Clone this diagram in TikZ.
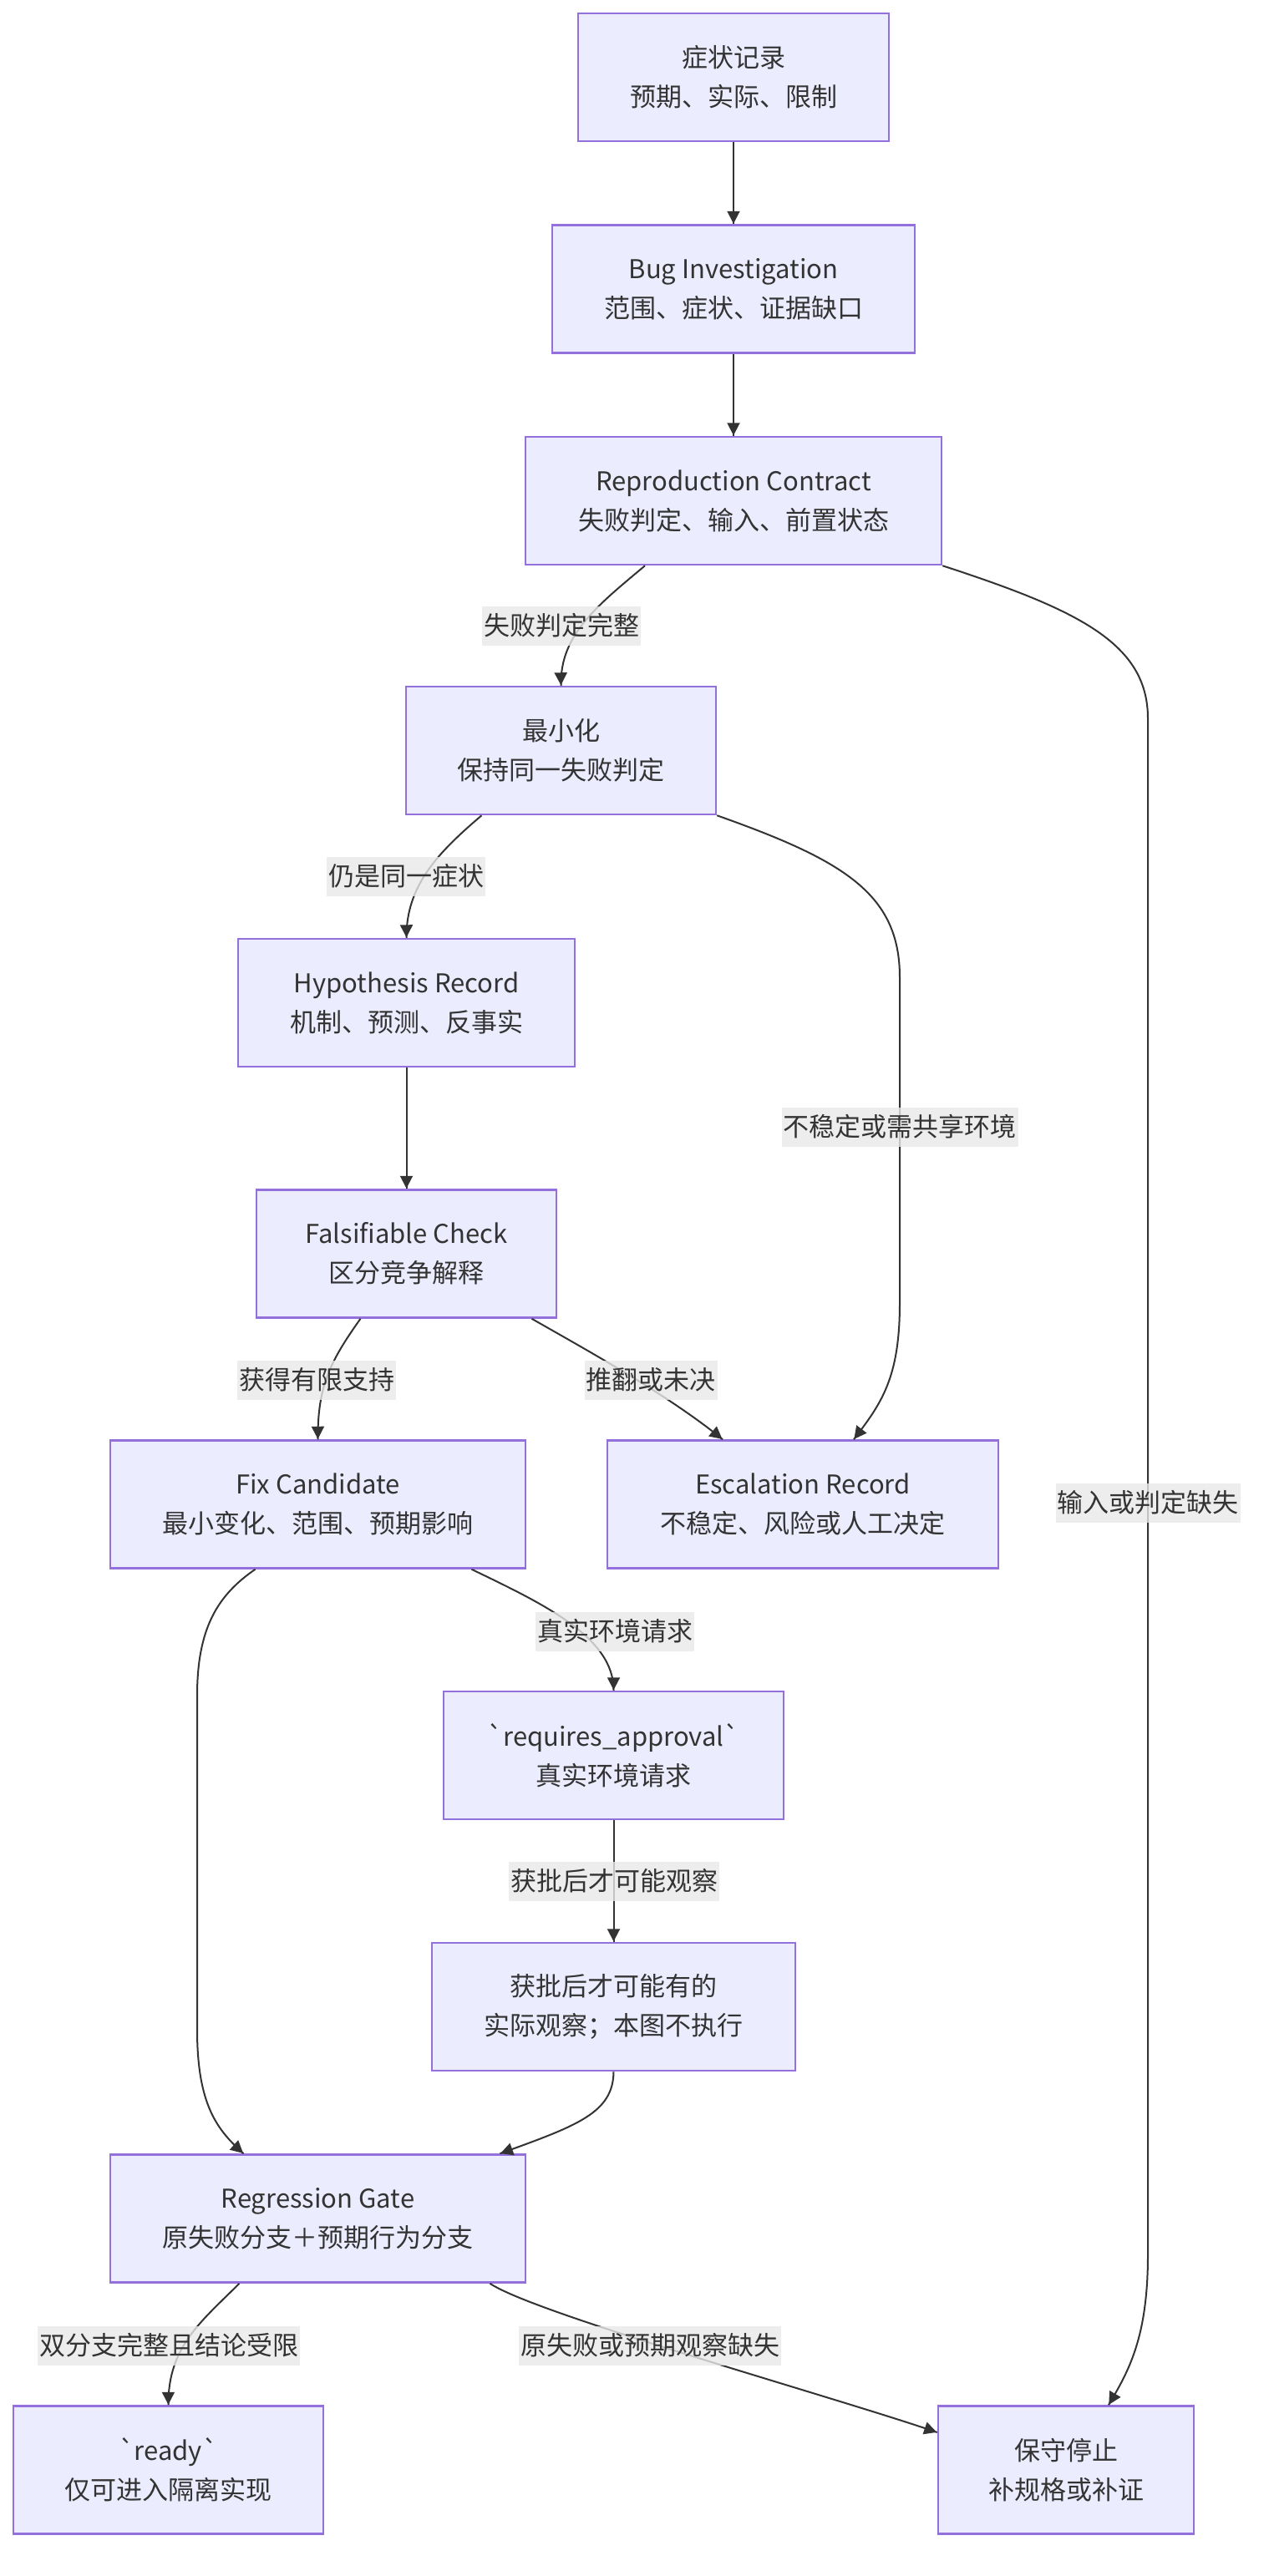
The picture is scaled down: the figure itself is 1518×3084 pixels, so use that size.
\documentclass[tikz,border=0pt]{standalone}
\usepackage{fontspec}
\usepackage[]{xcolor}
\setmainfont{Noto Sans CJK SC}
\usetikzlibrary{arrows.meta}
\usetikzlibrary{decorations.markings}
\definecolor{nodefill}{HTML}{ECECFF}
\definecolor{nodeline}{HTML}{9370DB}
\definecolor{ink}{HTML}{333333}
\definecolor{lblfill}{HTML}{E8E8E8}
\tikzset{->/.style = {decoration={markings,mark=at position -0.5pt with {\arrow{Triangle[length=15pt,width=15pt]}}},postaction={decorate}}}
\tikzset{stepbox/.style = {draw=nodeline, fill=nodefill, line width=2.5pt, text=ink, align=center, minimum height=153pt, inner sep=0pt, font=\fontsize{31}{47}\selectfont}}
\tikzset{lbl/.style = {fill=lblfill, fill opacity=0.8, text opacity=1, text=ink, inner xsep=2pt, inner ysep=0pt, minimum height=47pt, font=\fontsize{31}{47}\selectfont}}
\tikzset{flow/.style = {draw=ink, line width=2pt}}

\begin{document}
\begin{tikzpicture}[x=1pt,y=-1pt]
        \useasboundingbox (0,0) rectangle (1518,3084);
        \node [stepbox, minimum width=372pt] (sym) at (878,92.5) {症状记录\\预期、实际、限制};
        \node [stepbox, minimum width=434pt] (bug) at (878,346) {Bug Investigation\\范围、症状、证据缺口};
        \node [stepbox, minimum width=498pt] (repro) at (878,599.5) {Reproduction Contract\\失败判定、输入、前置状态};
        \node [stepbox, minimum width=371pt] (mini) at (671.5,898.5) {最小化\\保持同一失败判定};
        \node [stepbox, minimum width=403pt] (hyp) at (486.5,1200.5) {Hypothesis Record\\机制、预测、反事实};
        \node [stepbox, minimum width=359pt] (check) at (486.5,1501) {Falsifiable Check\\区分竞争解释};
        \node [stepbox, minimum width=497pt] (fix) at (380.5,1801) {Fix Candidate\\最小变化、范围、预期影响};
        \node [stepbox, minimum width=468pt] (esc) at (961,1801) {Escalation Record\\不稳定、风险或人工决定};
        \node [stepbox, minimum width=407pt] (appr) at (734.5,2101.5) {\textasciigrave requires\_approval\textasciigrave\\真实环境请求};
        \node [stepbox, minimum width=435pt] (obs) at (734.5,2402.5) {获批后才可能有的\\实际观察；本图不执行};
        \node [stepbox, minimum width=497pt] (gate) at (380.5,2656) {Regression Gate\\原失败分支＋预期行为分支};
        \node [stepbox, minimum width=371pt] (ready) at (201.5,2957) {\textasciigrave ready\textasciigrave\\仅可进入隔离实现};
        \node [stepbox, minimum width=306pt] (halt) at (1276,2957) {保守停止\\补规格或补证};

        \draw [flow,->] (sym) -- (bug);
        \draw [flow,->] (bug) -- (repro);
        \draw [flow,->] ([xshift=-106pt]repro.south) .. controls (715,725) and (670,760) .. (mini.north);
        \draw [flow,->] (repro.south east) .. controls (1290,730) and (1374,770) .. (1374,860) -- (1374,2700) .. controls (1374,2800) and (1350,2840) .. ([xshift=51pt]halt.north);
        \draw [flow,->] ([xshift=-95pt]mini.south) .. controls (525,1020) and (486,1060) .. (hyp.north);
        \draw [flow,->] (mini.south east) .. controls (1010,1030) and (1077,1070) .. (1077,1170) -- (1077,1560) .. controls (1077,1650) and (1055,1680) .. ([xshift=61pt]esc.north);
        \draw [flow,->] (hyp) -- (check);
        \draw [flow,->] ([xshift=-55pt]check.south) .. controls (395,1630) and (380,1660) .. (fix.north);
        \draw [flow,->] ([xshift=150pt]check.south) .. controls (700,1615) and (800,1670) .. ([xshift=-96pt]esc.north);
        \draw [flow,->] ([xshift=184pt]fix.south) .. controls (650,1920) and (735,1960) .. (appr.north);
        \draw [flow,->] ([xshift=-75pt]fix.south) .. controls (260,1910) and (236,1950) .. (236,2030) -- (236,2430) .. controls (236,2520) and (260,2550) .. ([xshift=-89pt]gate.north);
        \draw [flow,->] (appr) -- (obs);
        \draw [flow,->] (obs.south) .. controls (734,2530) and (690,2545) .. ([xshift=218pt]gate.north);
        \draw [flow,->] ([xshift=-94pt]gate.south) .. controls (240,2780) and (201,2810) .. (ready.north);
        \draw [flow,->] ([xshift=206pt]gate.south) .. controls (640,2770) and (1000,2870) .. ([yshift=45pt]halt.west);

        \node [lbl] (complete) at (672,749) {失败判定完整};
        \node [lbl] (same) at (486,1049) {仍是同一症状};
        \node [lbl] (unstable) at (1077,1349) {不稳定或需共享环境};
        \node [lbl] (support) at (379,1652) {获得有限支持};
        \node [lbl] (refuted) at (779,1652) {推翻或未决};
        \node [lbl] (missing) at (1374,1799) {输入或判定缺失};
        \node [lbl] (realenv) at (736,1953) {真实环境请求};
        \node [lbl] (approved) at (735,2252) {获批后才可能观察};
        \node [lbl] (bothok) at (202,2808) {双分支完整且结论受限};
        \node [lbl] (nobs) at (778,2808) {原失败或预期观察缺失};
    \end{tikzpicture}
\end{document}
